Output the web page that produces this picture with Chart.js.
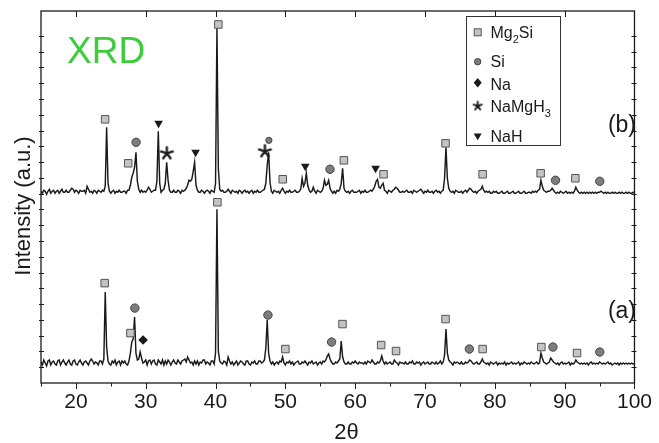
<!DOCTYPE html>
<html>
<head>
<meta charset="utf-8">
<script src="https://cdn.jsdelivr.net/npm/chart.js@4.4.1/dist/chart.umd.min.js"></script>
<style>
  html, body { margin: 0; padding: 0; background: #ffffff; }
  #wrap { width: 659px; height: 443px; }
</style>
</head>
<body>
<div id="wrap"><canvas id="xrd" width="659" height="443"></canvas></div>
<script>
// Scan grid (degrees 2θ)
const THETA_START = 15;
const THETA_STEP = 0.2;

// Pattern (a): intensity (a.u.), one row per 2° (10 steps of 0.2°), 15° → 100°
const patternA = [
  21,18,23,20,17,22,23,18,21,22,
  19,18,22,23,18,21,23,20,18,21,
  23,19,18,22,23,19,18,21,23,20,
  18,21,22,20,18,22,24,22,19,21,
  20,18,22,22,19,24,91,36,22,19,
  18,22,20,23,18,21,22,18,22,20,
  22,19,18,22,30,41,44,66,30,23,
  24,31,25,20,21,23,18,22,23,19,
  22,23,19,18,23,21,19,23,18,22,
  19,23,21,18,21,23,20,19,23,21,
  19,22,23,24,21,26,23,20,21,18,
  22,19,22,18,21,20,23,23,19,21,
  20,18,22,22,19,30,174,32,22,20,
  19,22,21,18,26,22,19,21,18,20,
  22,18,20,22,21,19,18,22,22,19,
  18,21,20,22,19,19,22,22,20,21,
  23,35,63,30,22,19,21,18,20,21,
  19,22,21,26,20,18,21,20,22,19,
  21,18,20,21,22,19,19,21,20,22,
  20,18,21,20,22,19,20,21,18,20,
  21,19,22,21,23,27,29,24,21,19,
  19,21,20,22,24,42,26,21,19,19,
  21,19,19,21,20,22,20,19,21,20,
  20,19,21,19,22,21,20,23,21,19,
  19,21,20,22,27,22,19,21,19,20,
  21,19,19,23,21,20,18,21,20,20,
  19,21,19,19,21,20,22,19,19,21,
  20,21,18,20,21,19,20,21,19,19,
  21,20,19,21,19,20,22,19,21,28,
  54,30,23,21,20,18,21,20,21,20,
  19,21,19,19,21,20,21,23,22,20,
  19,20,21,19,19,21,24,21,20,19,
  20,18,21,20,19,20,21,18,20,19,
  20,19,21,18,20,19,20,21,19,20,
  19,20,21,18,20,19,21,20,19,20,
  19,21,20,19,20,21,19,20,30,25,
  21,20,19,20,21,25,23,21,20,19,
  20,18,20,21,19,20,19,20,21,18,
  20,19,20,23,21,20,19,20,19,20,
  19,20,18,20,21,19,20,19,20,19,
  21,20,19,20,19,20,21,19,20,18,
  19,20,19,20,18,20,19,20,19,20,
  19,20,19,20,19,19
];

// Pattern (b): intensity (a.u.) before vertical offset, same grid
const patternB = [
  22,20,23,22,19,22,24,20,22,23,
  20,22,23,20,22,24,21,21,23,21,
  21,23,25,24,21,23,22,20,23,22,
  22,23,20,27,24,21,22,20,23,22,
  20,23,22,21,23,22,27,86,30,22,
  20,22,23,20,22,21,23,21,21,22,
  22,20,23,23,28,36,40,46,61,32,
  24,21,23,21,22,21,23,26,24,21,
  22,23,23,32,82,30,21,23,24,30,
  51,33,23,21,21,23,21,21,23,22,
  20,23,22,23,25,28,33,32,34,42,
  51,28,23,21,21,23,22,20,22,23,
  22,20,23,22,21,30,186,45,24,22,
  23,21,21,22,24,22,20,23,22,21,
  22,20,23,22,20,22,23,21,22,20,
  22,23,20,22,21,23,21,21,22,23,
  24,30,48,61,31,22,20,23,22,21,
  22,20,23,25,22,20,22,21,23,21,
  21,22,23,21,21,22,24,35,27,30,
  40,28,23,21,22,26,22,20,23,22,
  21,22,25,33,28,29,33,25,22,20,
  22,20,23,22,24,30,45,25,22,21,
  22,20,22,23,21,21,21,22,23,20,
  22,21,23,21,21,22,23,22,24,27,
  32,34,26,25,28,30,23,22,20,23,
  22,21,23,24,26,25,23,21,21,22,
  21,22,23,21,21,22,20,23,22,21,
  22,23,24,22,20,22,21,23,21,21,
  22,20,22,23,21,22,20,22,23,35,
  66,35,25,22,21,22,20,23,22,21,
  21,22,20,22,23,21,23,25,24,22,
  21,22,20,22,23,24,27,23,21,22,
  21,22,20,20,22,21,22,20,20,21,
  22,20,20,21,22,20,20,21,22,20,
  20,21,22,20,20,21,22,20,20,21,
  21,20,22,21,22,21,23,24,33,27,
  23,22,21,22,22,23,25,23,21,20,
  21,20,22,21,20,21,22,20,21,20,
  21,20,22,26,23,21,20,21,20,21,
  20,21,20,21,20,21,20,21,20,21,
  21,22,21,20,21,20,21,20,20,21,
  20,21,20,20,21,20,21,20,20,21,
  20,21,20,20,21,20
];

// Vertical shift applied to pattern (b) so the two scans are stacked
const OFFSET_B = 170;

// Phase markers: [2θ, marker height in a.u.] for each pattern
const mg2siA  = [[24.12,100],[27.81,50],[40.26,181],[50.0,34],[58.18,59],[63.72,38],[65.85,32],[72.94,64],[78.25,34],[86.66,36],[91.77,30]];
const siA     = [[28.44,75],[47.5,68],[56.62,41],[76.35,34],[88.32,36],[95.03,31]];
const naA     = [[29.62,43]];
const mg2siB  = [[24.18,94],[27.49,50],[40.4,189],[49.62,34],[58.38,53],[64.06,39],[72.94,70],[78.25,39],[86.56,40],[91.53,35]];
const siB     = [[28.62,71],[56.39,44],[88.69,33],[95.03,32]];
const siSmallB = [[47.64,73]];
const namgh3B = [[33.02,60],[47.07,62]];
const nahB    = [[31.84,90],[37.14,61],[52.85,47],[62.92,45]];

// Axis ticks
const xTickLabels = [20, 30, 40, 50, 60, 70, 80, 90, 100];
const xMinorStep = 5;
const yTickStep = 15.8;

const FONT = '"Liberation Sans", Arial, Helvetica, sans-serif';
const INK = '#1a1a1a';
const SQUARE_FILL = '#c4c4c4', SQUARE_EDGE = '#555555';
const CIRCLE_FILL = '#7d7d7d', CIRCLE_EDGE = '#444444';

// Five-armed asterisk drawn as a point style image
function asteriskImage(radius, width) {
  const box = Math.ceil(radius * 2 + width * 2);
  const c = document.createElement('canvas');
  c.width = box; c.height = box;
  const g = c.getContext('2d');
  g.strokeStyle = INK;
  g.lineWidth = width;
  g.lineCap = 'round';
  g.beginPath();
  for (let k = 0; k < 5; k++) {
    const ang = -Math.PI / 2 + k * (2 * Math.PI / 5);
    g.moveTo(box / 2, box / 2);
    g.lineTo(box / 2 + Math.cos(ang) * radius, box / 2 + Math.sin(ang) * radius);
  }
  g.stroke();
  return c;
}
const starPlot = asteriskImage(6.2, 2.3);
const starLegend = asteriskImage(4.3, 1.9);

const scanPoints = (vals, off) => vals.map((v, i) => ({ x: THETA_START + i * THETA_STEP, y: v + off }));
const markPoints = (list, off) => list.map(p => ({ x: p[0], y: p[1] + off }));

function markerSet(list, off, style) {
  return Object.assign({
    type: 'scatter', data: markPoints(list, off), showLine: false, order: 0
  }, style);
}

const squareStyle = { pointStyle: 'rect', pointRadius: 5.3, backgroundColor: SQUARE_FILL, borderColor: SQUARE_EDGE, borderWidth: 1 };
const circleStyle = { pointStyle: 'circle', pointRadius: 4.2, backgroundColor: CIRCLE_FILL, borderColor: CIRCLE_EDGE, borderWidth: 1 };
const smallCircleStyle = { pointStyle: 'circle', pointRadius: 3.1, backgroundColor: CIRCLE_FILL, borderColor: CIRCLE_EDGE, borderWidth: 1 };
const diamondStyle = { pointStyle: 'rectRot', pointRadius: 4.8, backgroundColor: INK, borderColor: INK, borderWidth: 0 };
const triangleStyle = { pointStyle: 'triangle', pointRotation: 180, pointRadius: 5, backgroundColor: INK, borderColor: INK, borderWidth: 0 };
const starStyle = { pointStyle: starPlot, pointRadius: 6 };

const datasets = [
  markerSet(mg2siA, 0, squareStyle),
  markerSet(siA, 0, circleStyle),
  markerSet(naA, 0, diamondStyle),
  markerSet(mg2siB, OFFSET_B, squareStyle),
  markerSet(siB, OFFSET_B, circleStyle),
  markerSet(siSmallB, OFFSET_B, smallCircleStyle),
  markerSet(namgh3B, OFFSET_B, starStyle),
  markerSet(nahB, OFFSET_B, triangleStyle),
  { type: 'scatter', label: '(a)', data: scanPoints(patternA, 0), showLine: true, pointRadius: 0,
    borderColor: INK, borderWidth: 1.45, order: 1 },
  { type: 'scatter', label: '(b)', data: scanPoints(patternB, OFFSET_B), showLine: true, pointRadius: 0,
    borderColor: INK, borderWidth: 1.45, order: 1 }
];

// Frame, tick marks, annotations and the phase legend
const decorations = {
  id: 'decorations',
  afterDraw(chart) {
    const { ctx, chartArea: a, scales: { x, y } } = chart;
    ctx.save();
    ctx.strokeStyle = INK;
    ctx.lineWidth = 1.3;
    ctx.strokeRect(a.left, a.top, a.right - a.left, a.bottom - a.top);

    ctx.lineWidth = 1;
    ctx.beginPath();
    for (let v = x.min; v <= x.max + 1e-9; v += xMinorStep) {
      const px = Math.round(x.getPixelForValue(v)) + 0.5;
      const major = xTickLabels.includes(v);
      ctx.moveTo(px, a.bottom);
      ctx.lineTo(px, a.bottom + (major ? 6 : 3.5));
      if (major && v < x.max) {
        ctx.moveTo(px, a.top);
        ctx.lineTo(px, a.top + 6);
      }
    }
    y.ticks.forEach(t => {
      const py = Math.round(y.getPixelForValue(t.value)) + 0.5;
      if (py < a.top + 3 || py > a.bottom - 3) return;
      ctx.moveTo(a.left - 2, py); ctx.lineTo(a.left + 3, py);
      ctx.moveTo(a.right - 3, py); ctx.lineTo(a.right + 2, py);
    });
    ctx.stroke();

    // Axis titles
    ctx.fillStyle = INK;
    ctx.font = '22px ' + FONT;
    ctx.textAlign = 'center';
    ctx.textBaseline = 'alphabetic';
    ctx.fillText('2θ', 346.5, 439);
    ctx.save();
    ctx.translate(30, 206);
    ctx.rotate(-Math.PI / 2);
    ctx.fillText('Intensity (a.u.)', 0, 0);
    ctx.restore();

    // Title and pattern labels
    ctx.textAlign = 'left';
    ctx.fillStyle = '#3ccc3c';
    ctx.font = '37px ' + FONT;
    ctx.fillText('XRD', 67, 63);
    ctx.fillStyle = INK;
    ctx.font = '23px ' + FONT;
    ctx.textAlign = 'right';
    ctx.fillText('(b)', 636, 132);
    ctx.fillText('(a)', 636, 318);

    // Phase legend
    const box = { l: 466.5, t: 16.5, r: 560.5, b: 145.5 };
    ctx.lineWidth = 1;
    ctx.strokeStyle = '#333333';
    ctx.strokeRect(box.l, box.t, box.r - box.l, box.b - box.t);
    const sx = 477.7, tx = 490.5;
    const rows = [
      { sym: 'square', y: 32.3, base: 37.5, parts: [['Mg', 0], ['2', 1], ['Si', 0]] },
      { sym: 'circle', y: 61.7, base: 67, parts: [['Si', 0]] },
      { sym: 'diamond', y: 82.7, base: 89.5, parts: [['Na', 0]] },
      { sym: 'star', y: 106, base: 112, parts: [['NaMgH', 0], ['3', 1]] },
      { sym: 'triangle', y: 136.7, base: 142, parts: [['NaH', 0]] }
    ];
    rows.forEach(r => {
      drawLegendSymbol(ctx, r.sym, sx, r.y);
      let cx = tx;
      ctx.textAlign = 'left';
      ctx.fillStyle = INK;
      r.parts.forEach(([txt, sub]) => {
        ctx.font = (sub ? 11 : 16) + 'px ' + FONT;
        ctx.fillText(txt, cx, r.base + (sub ? 5 : 0));
        cx += ctx.measureText(txt).width;
      });
    });
    ctx.restore();
  }
};

function drawLegendSymbol(ctx, kind, x, y) {
  ctx.save();
  ctx.lineWidth = 1;
  if (kind === 'square') {
    ctx.fillStyle = SQUARE_FILL; ctx.strokeStyle = SQUARE_EDGE;
    ctx.fillRect(x - 3.5, y - 3.5, 7, 7); ctx.strokeRect(x - 3.5, y - 3.5, 7, 7);
  } else if (kind === 'circle') {
    ctx.fillStyle = CIRCLE_FILL; ctx.strokeStyle = CIRCLE_EDGE;
    ctx.beginPath(); ctx.arc(x, y, 3.2, 0, Math.PI * 2); ctx.fill(); ctx.stroke();
  } else if (kind === 'diamond') {
    ctx.fillStyle = INK;
    ctx.beginPath(); ctx.moveTo(x, y - 4.8); ctx.lineTo(x + 4, y); ctx.lineTo(x, y + 4.8); ctx.lineTo(x - 4, y); ctx.closePath(); ctx.fill();
  } else if (kind === 'star') {
    ctx.drawImage(starLegend, x - starLegend.width / 2, y - starLegend.height / 2);
  } else if (kind === 'triangle') {
    ctx.fillStyle = INK;
    ctx.beginPath(); ctx.moveTo(x - 4, y - 3.2); ctx.lineTo(x + 4, y - 3.2); ctx.lineTo(x, y + 3.5); ctx.closePath(); ctx.fill();
  }
  ctx.restore();
}

new Chart(document.getElementById('xrd'), {
  type: 'scatter',
  data: { datasets },
  options: {
    responsive: false,
    animation: false,
    events: [],
    layout: { padding: { top: 11, right: 19, left: 0, bottom: 0 } },
    plugins: { legend: { display: false }, tooltip: { enabled: false } },
    elements: { line: { tension: 0 } },
    scales: {
      x: {
        type: 'linear', min: 15, max: 100,
        grid: { display: false, drawTicks: false },
        border: { display: false },
        ticks: {
          stepSize: 10, includeBounds: false, autoSkip: false, maxRotation: 0,
          padding: 7, color: INK, font: { family: FONT, size: 21 },
          callback: v => (xTickLabels.includes(v) ? String(v) : '')
        },
        afterFit: s => { s.height = 60; }
      },
      y: {
        type: 'linear', min: 0, max: 372.5,
        grid: { display: false, drawTicks: false },
        border: { display: false },
        ticks: { display: false, stepSize: yTickStep },
        afterFit: s => { s.width = 41; }
      }
    }
  },
  plugins: [decorations]
});
</script>
</body>
</html>
